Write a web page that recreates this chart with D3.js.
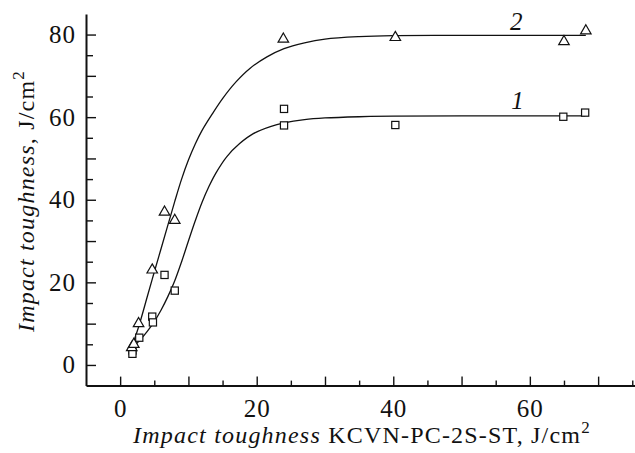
<!DOCTYPE html>
<html>
<head>
<meta charset="utf-8">
<script src="https://cdn.jsdelivr.net/npm/d3@7/dist/d3.min.js"></script>
<style>
  html, body { margin: 0; padding: 0; background: #fff; }
  svg { display: block; }
  svg text { font-family: "Liberation Serif", "Times New Roman", Times, "DejaVu Serif", serif !important; fill: #111; }
</style>
</head>
<body>
<svg id="chart" width="635" height="453"></svg>
<script>
// ---- data ----
const series1X = [1.8, 1.8, 2.8, 4.7, 4.8, 6.5, 8.0, 24.0, 24.0, 40.3, 64.9, 68.1];
const series1Y = [3.5, 2.7, 6.6, 11.7, 10.3, 21.8, 18.0, 62.0, 58.0, 58.1, 60.1, 61.1];
const series2X = [1.7, 2.0, 2.7, 4.7, 6.5, 8.0, 23.9, 40.3, 65.0, 68.2];
const series2Y = [4.2, 5.0, 10.0, 23.0, 37.0, 35.0, 78.9, 79.3, 78.3, 80.9];
// fitted curves
const curve1X = [1.9, 3, 4, 5, 6, 7, 8, 9, 10, 11, 12, 13, 14, 15.6, 17.5, 19.5, 22, 24, 27, 30, 35, 40, 50, 68.1];
const curve1Y = [4.3, 6.2, 8.2, 10.5, 13.3, 16.6, 20.4, 25.0, 30.0, 34.9, 39.4, 43.2, 46.4, 50.4, 53.6, 56.0, 57.7, 58.6, 59.4, 59.8, 60.1, 60.25, 60.3, 60.3];
const curve2X = [1.7, 2.7, 4, 5, 6, 7, 8, 9, 10, 11, 12, 13.5, 15, 17, 19, 21.5, 24, 27, 30, 35, 40, 50, 68.2];
const curve2Y = [4.4, 9.2, 16.7, 22.5, 28.2, 33.9, 39.6, 45.0, 49.6, 53.5, 56.8, 60.8, 64.5, 68.6, 71.8, 74.6, 76.6, 78.0, 78.9, 79.5, 79.75, 79.8, 79.8];
const curveLabels = ["1", "2"];
const curveLabelX = [58.2, 58.0];
const curveLabelY = [62.0, 81.0];
const xTicks = d3.range(0, 76, 5);
const yTicks = d3.range(0, 81, 5);
const xLabelTicks = [0, 20, 40, 60];
const yLabelTicks = [0, 20, 40, 60, 80];

const svg = d3.select("#chart");
const x = d3.scaleLinear().domain([-5, 75.4]).range([86, 635]);
const y = d3.scaleLinear().domain([-5, 85]).range([385.6, 13.9]);

// axes
const xAxis = d3.axisBottom(x).tickValues(xTicks).tickSizeInner(-9).tickSizeOuter(0).tickPadding(14)
  .tickFormat(d => xLabelTicks.includes(d) ? d : "");
const gx = svg.append("g").attr("transform", `translate(0,${y(-5)})`).call(xAxis);
gx.selectAll(".tick line").attr("y2", d => d % 10 === 0 ? -9 : -5);

const yAxis = d3.axisLeft(y).tickValues(yTicks).tickSizeInner(-10).tickSizeOuter(0).tickPadding(10)
  .tickFormat(d => yLabelTicks.includes(d) ? d : "");
const gy = svg.append("g").attr("transform", `translate(${x(-5)},0)`).call(yAxis);
gy.selectAll(".tick line").attr("x2", d => d % 10 === 0 ? 10 : 7);

[gx, gy].forEach(g => {
  g.attr("font-family", null);
  g.select(".domain").attr("stroke", "#111").attr("stroke-width", 2);
  g.selectAll(".tick line").attr("stroke", "#111").attr("stroke-width", 1.4);
  g.selectAll(".tick text").style("font-size", "25px").style("letter-spacing", "1px").attr("fill", "#111");
});

// curves
const line = d3.line().x(d => x(d[0])).y(d => y(d[1])).curve(d3.curveCatmullRom.alpha(0.5));
const curves = [d3.zip(curve1X, curve1Y), d3.zip(curve2X, curve2Y)];
svg.append("g").selectAll("path").data(curves).join("path")
  .attr("d", line).attr("fill", "none").attr("stroke", "#111").attr("stroke-width", 1.3);

// markers
svg.append("g").selectAll("rect").data(d3.zip(series1X, series1Y)).join("rect")
  .attr("x", d => x(d[0]) - 3.6).attr("y", d => y(d[1]) - 3.6)
  .attr("width", 7.2).attr("height", 7.2)
  .attr("fill", "#fff").attr("stroke", "#111").attr("stroke-width", 1.2);
const tri = d3.symbol().type(d3.symbolTriangle).size(48);
svg.append("g").selectAll("path").data(d3.zip(series2X, series2Y)).join("path")
  .attr("d", tri)
  .attr("transform", d => `translate(${x(d[0])},${y(d[1])})`)
  .attr("fill", "#fff").attr("stroke", "#111").attr("stroke-width", 1.2);

// curve labels
svg.append("g").selectAll("text").data(curveLabels).join("text")
  .attr("x", (d, i) => x(curveLabelX[i])).attr("y", (d, i) => y(curveLabelY[i]))
  .attr("text-anchor", "middle").style("font-size", "25px").style("font-style", "italic")
  .text(d => d);

// axis titles
const xt = svg.append("text").attr("x", 362).attr("y", 443).attr("text-anchor", "middle")
  .style("font-size", "24px").style("letter-spacing", "1.2px");
xt.append("tspan").style("font-style", "italic").text("Impact toughness");
xt.append("tspan").text(" KCVN-PC-2S-ST, J/cm");
xt.append("tspan").attr("dy", -10).style("font-size", "17px").text("2");

const yt = svg.append("text").attr("transform", "translate(34,201) rotate(-90)")
  .attr("text-anchor", "middle").style("font-size", "24px").style("letter-spacing", "1.2px");
yt.append("tspan").style("font-style", "italic").text("Impact toughness");
yt.append("tspan").text(", J/cm");
yt.append("tspan").attr("dy", -10).style("font-size", "17px").text("2");
</script>
</body>
</html>
